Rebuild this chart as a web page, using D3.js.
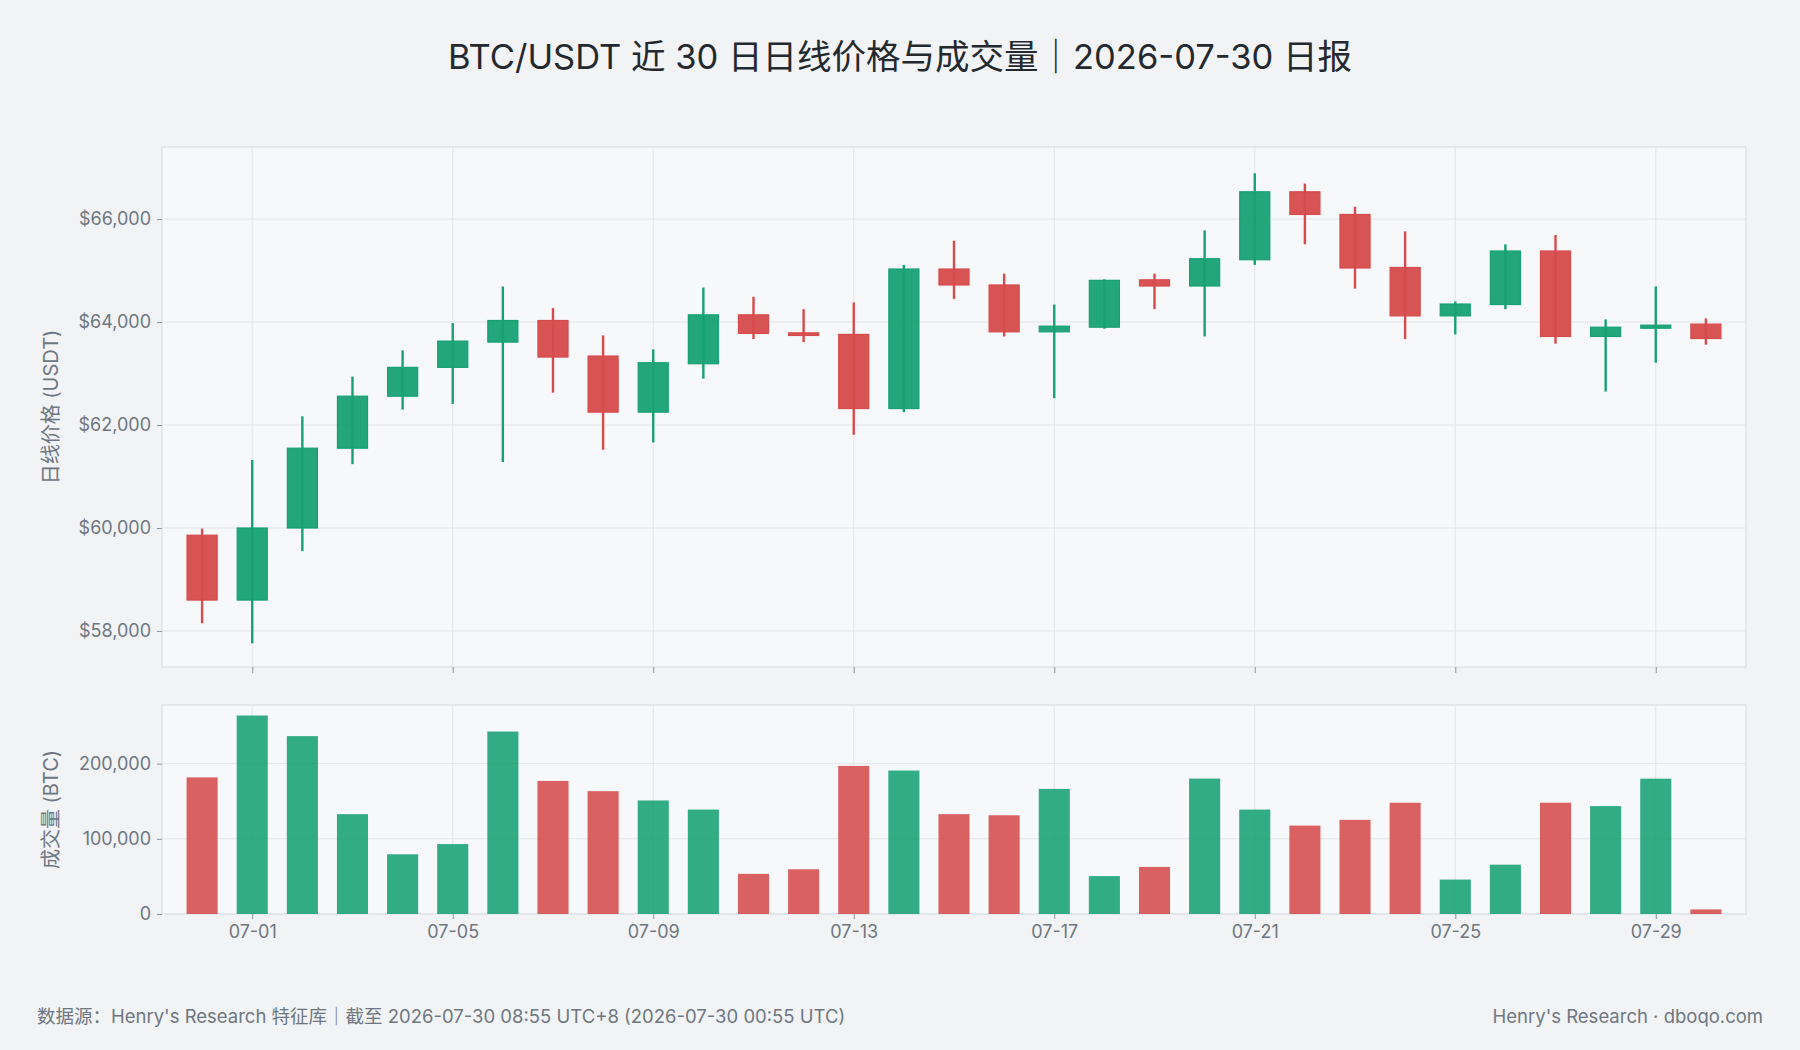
<!DOCTYPE html>
<html><head><meta charset="utf-8">
<script src="https://cdn.jsdelivr.net/npm/d3@7"></script>
<style>
body{margin:0;background:#f1f3f5;font-family:Inter,"Noto Sans CJK SC",sans-serif;}
</style></head>
<body><svg id="c" width="1800" height="1050"></svg>
<script>
// ----- data -----
const dates = ["06-30","07-01","07-02","07-03","07-04","07-05","07-06","07-07","07-08","07-09","07-10","07-11","07-12","07-13","07-14","07-15","07-16","07-17","07-18","07-19","07-20","07-21","07-22","07-23","07-24","07-25","07-26","07-27","07-28","07-29","07-30"];
const opens  = [59860,58600,60000,61550,62560,63120,63610,64030,63340,62250,63190,64140,63790,63760,62320,65030,64720,63810,63900,64820,64700,65210,66530,66090,65060,64120,64340,65380,63720,63880,63960];
const closes = [58600,60000,61550,62560,63120,63630,64030,63320,62250,63210,64140,63780,63740,62320,65030,64720,63810,63920,64810,64700,65230,66530,66090,65050,64120,64350,65380,63720,63900,63940,63680];
const highs  = [59990,61320,62170,62940,63450,63980,64690,64270,63740,63470,64670,64490,64250,64380,65110,65580,64940,64340,64830,64940,65780,66890,66690,66240,65760,64400,65510,65690,64050,64690,64070];
const lows   = [58150,57760,59550,61240,62300,62410,61280,62630,61520,61660,62900,63670,63610,61810,62250,64450,63720,62520,63870,64250,63720,65110,65510,64650,63670,63760,64250,63580,62650,63210,63560];
const volumes = [181700,264000,236600,132800,79400,93000,242700,177000,163400,151000,138900,53400,59500,197000,190800,132800,131300,166400,50400,62600,180100,138900,117600,125200,148000,45800,65600,148000,143500,180000,6100];
const tickDates = ["07-01","07-05","07-09","07-13","07-17","07-21","07-25","07-29"];
const priceTicks = [58000,60000,62000,64000,66000];
const volTicks = [0,100000,200000];

const UP = "#17a172", DOWN = "#d64b4b";
const svg = d3.select("#c");
const L = 162, R = 1746;
const pTop = 147, pBot = 667, vTop = 705, vBot = 914;

svg.append("text").attr("x",900).attr("y",69).attr("text-anchor","middle")
  .style("font-size","34.5px").style("fill","#24292f")
  .text("BTC/USDT 近 30 日日线价格与成交量｜2026-07-30 日报");

const x = d3.scaleLinear().domain([-0.8, dates.length - 0.2]).range([L, R]);
const step = x(1) - x(0);
const y = d3.scaleLinear().domain([57300, 67400]).range([pBot, pTop]);
const yv = d3.scaleLinear().domain([0, 278000]).range([vBot, vTop]);
const tickIdx = tickDates.map(d => dates.indexOf(d));

function panel(top, bot, ys, ticks, fmt){
  svg.append("rect").attr("x",L).attr("y",top).attr("width",R-L).attr("height",bot-top)
    .attr("fill","#f6f8fa").attr("stroke","#d8dce0");
  const g = svg.append("g");
  g.selectAll(".h").data(ticks).enter().append("line")
    .attr("x1",L).attr("x2",R).attr("y1",d=>ys(d)).attr("y2",d=>ys(d)).attr("stroke","#e2e5e9");
  g.selectAll(".v").data(tickIdx).enter().append("line")
    .attr("x1",d=>x(d)).attr("x2",d=>x(d)).attr("y1",top).attr("y2",bot).attr("stroke","#e2e5e9");
  const ax = svg.append("g").attr("transform",`translate(${L},0)`)
    .call(d3.axisLeft(ys).tickValues(ticks).tickFormat(fmt).tickSize(5).tickPadding(6));
  ax.select(".domain").remove();
  ax.selectAll("line").attr("stroke","#8b949e");
  ax.selectAll("text").style("font-size","18px").style("fill","#6e7781").style("font-family","Inter, sans-serif");
}
panel(pTop, pBot, y, priceTicks, d => "$" + d3.format(",")(d));
panel(vTop, vBot, yv, volTicks, d3.format(","));

// x ticks
const ax1 = svg.append("g").attr("transform",`translate(0,${pBot})`)
  .call(d3.axisBottom(x).tickValues(tickIdx).tickFormat("").tickSize(6));
ax1.select(".domain").remove(); ax1.selectAll("line").attr("stroke","#8b949e");
const ax2 = svg.append("g").attr("transform",`translate(0,${vBot})`)
  .call(d3.axisBottom(x).tickValues(tickIdx).tickFormat(i => dates[i]).tickSize(5).tickPadding(6));
ax2.select(".domain").remove(); ax2.selectAll("line").attr("stroke","#8b949e");
ax2.selectAll("text").style("font-size","18px").style("fill","#6e7781").style("font-family","Inter, sans-serif");

// candles
const bw = step * 0.6;
const cg = svg.append("g");
dates.forEach((d, i) => {
  const c = closes[i] >= opens[i] ? UP : DOWN;
  cg.append("line").attr("x1",x(i)).attr("x2",x(i)).attr("y1",y(highs[i])).attr("y2",y(lows[i]))
    .attr("stroke",c).attr("stroke-width",2.4);
  const t = y(Math.max(opens[i],closes[i])), b = y(Math.min(opens[i],closes[i]));
  cg.append("rect").attr("x",x(i)-bw/2).attr("width",bw).attr("y",t).attr("height",Math.max(b-t,2))
    .attr("fill",c).attr("fill-opacity",0.95).attr("stroke",c).attr("stroke-width",1.2);
});

// volume
svg.append("g").selectAll("rect").data(volumes).enter().append("rect")
  .attr("x",(d,i)=>x(i)-step*0.31).attr("width",step*0.62)
  .attr("y",d=>yv(d)).attr("height",d=>vBot-yv(d))
  .attr("fill",(d,i)=>closes[i]>=opens[i]?UP:DOWN).attr("fill-opacity",0.88);

// axis titles
svg.append("text").attr("transform",`translate(58,${(pTop+pBot)/2}) rotate(-90)`).attr("text-anchor","middle")
  .style("font-size","20px").style("fill","#6e7781").text("日线价格 (USDT)");
svg.append("text").attr("transform",`translate(58,${(vTop+vBot)/2}) rotate(-90)`).attr("text-anchor","middle")
  .style("font-size","20px").style("fill","#6e7781").text("成交量 (BTC)");

// footer
svg.append("text").attr("x",37).attr("y",1023).style("font-size","18.5px").style("fill","#6e7781")
  .text("数据源：Henry's Research 特征库｜截至 2026-07-30 08:55 UTC+8 (2026-07-30 00:55 UTC)");
svg.append("text").attr("x",1763).attr("y",1023).attr("text-anchor","end").style("font-size","18.5px").style("fill","#6e7781")
  .text("Henry's Research  ·  dboqo.com");
</script></body></html>
